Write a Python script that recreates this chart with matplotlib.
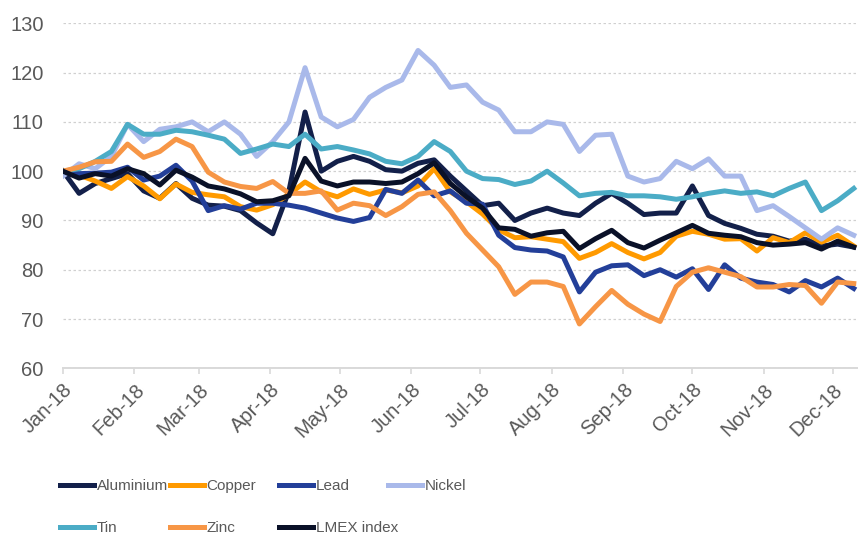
import matplotlib
matplotlib.use("Agg")
import matplotlib.pyplot as plt
import matplotlib.dates as mdates
import pandas as pd

# weekly readings, index Jan-2018 = 100
dates = pd.date_range("2018-01-01", periods=50, freq="7D")

aluminium = [100, 95.5, 97.5, 98.5, 99.5, 96, 94.5, 97.5, 94.5, 93.1,
             92.9, 92, 89.5, 87.3, 96, 112, 100, 102, 103, 102,
             100.3, 100, 101.6, 102.3, 99, 96, 93, 93.5, 90, 91.5,
             92.5, 91.5, 91, 93.5, 95.5, 93.5, 91.2, 91.5, 91.5, 97,
             91, 89.4, 88.4, 87.2, 86.8, 85.8, 86.2, 84.8, 85.2, 84.6]
copper = [100, 99.2, 98, 96.5, 98.9, 97, 94.4, 97.4, 95.7, 95.2,
          94.8, 92.8, 92.1, 93.2, 95.3, 97.8, 95.8, 94.8, 96.4, 95.3,
          96.2, 95.6, 97, 100.5, 95.8, 93.8, 91.3, 88.1, 86.5, 86.7,
          86.2, 85.7, 82.3, 83.5, 85.3, 83.5, 82.2, 83.5, 86.8, 87.8,
          87.2, 86.2, 86.3, 83.8, 86.5, 85.5, 87.5, 85.6, 87, 84.8]
lead = [100, 99.5, 99.6, 99.8, 100.8, 98.2, 99, 101.2, 98, 92,
        93, 92.3, 93.5, 93.5, 93.1, 92.5, 91.5, 90.5, 89.8, 90.6,
        96.3, 95.5, 98.2, 95, 96, 93.5, 93.3, 87, 84.5, 84,
        83.8, 82.6, 75.5, 79.5, 80.8, 81, 78.8, 80, 78.5, 80.2,
        76, 81, 78.3, 77.5, 77, 75.5, 77.8, 76.5, 78.3, 76.2]
nickel = [99, 101.5, 100.5, 103, 109.5, 106, 108.5, 109, 110, 108,
          110, 107.5, 103, 106, 110, 121, 111, 109, 110.5, 115,
          117, 118.5, 124.5, 121.5, 117, 117.5, 114, 112.4, 108, 108,
          110, 109.5, 104, 107.3, 107.5, 99, 97.8, 98.5, 102, 100.5,
          102.5, 99, 99, 92, 93, 90.8, 88.5, 86.2, 88.5, 87]
tin = [100, 100.5, 102, 104, 109.5, 107.5, 107.5, 108.3, 108, 107.3,
       106.5, 103.6, 104.5, 105.5, 105, 107.5, 104.5, 105, 104.3, 103.5,
       102, 101.5, 103, 106, 104, 100, 98.5, 98.3, 97.3, 98,
       100, 97.6, 95, 95.5, 95.7, 95, 95, 94.8, 94.3, 94.8,
       95.5, 96, 95.5, 95.8, 95, 96.5, 97.8, 92, 94, 96.5]
zinc = [100, 100.8, 101.9, 102, 105.5, 102.8, 104, 106.5, 105, 99.8,
        97.8, 96.9, 96.5, 97.9, 95.5, 95.5, 96, 92.1, 93.5, 93,
        91, 92.8, 95.3, 95.8, 92, 87.4, 84, 80.6, 75, 77.5,
        77.5, 76.6, 69, 72.5, 75.8, 73, 71, 69.5, 76.6, 79.5,
        80.4, 79.5, 78.6, 76.5, 76.5, 77, 76.8, 73.2, 77.5, 77.2]
lmex = [100, 98.6, 99.5, 99, 100.5, 99.5, 97.2, 100.2, 98.8, 97,
        96.4, 95.4, 93.8, 94, 95, 102.6, 98, 97, 97.8, 97.8,
        97.5, 97.8, 99.5, 101.7, 97.5, 94.8, 92.5, 88.5, 88.2, 86.8,
        87.5, 87.8, 84.3, 86.3, 88, 85.5, 84.4, 86, 87.5, 89,
        87.4, 87, 86.7, 85.5, 85, 85.2, 85.5, 84.2, 85.8, 84.6]

names = ["Aluminium", "Copper", "Lead", "Nickel", "Tin", "Zinc", "LMEX index"]
series = [aluminium, copper, lead, nickel, tin, zinc, lmex]
colors = ["#13204a", "#ff9a00", "#233f99", "#a9b9ea", "#4bacc6", "#f79646", "#0a1128"]

plt.rcParams["font.family"] = ["Liberation Sans", "DejaVu Sans"]

fig = plt.figure(figsize=(8.58, 5.34), dpi=100)
ax = fig.add_axes([0.0734, 0.3103, 0.9266, 0.646])

handles = []
for name, vals, c in zip(names, series, colors):
    h, = ax.plot(dates, vals, color=c, lw=3.6, label=name, solid_joinstyle="round")
    handles.append(h)

ax.set_ylim(60, 130)
ax.set_yticks(range(60, 131, 10))
ax.set_xlim(pd.Timestamp("2018-01-01"), pd.Timestamp("2018-12-11 20:00"))
ax.xaxis.set_major_locator(mdates.MonthLocator())
ax.xaxis.set_major_formatter(mdates.DateFormatter("%b-%y"))

ax.grid(axis="y", color="#d0d0d0", linestyle=(0, (2, 2)), lw=0.9)
ax.set_axisbelow(True)
for s in ["top", "right", "left"]:
    ax.spines[s].set_visible(False)
ax.spines["bottom"].set_color("#d9d9d9")
ax.spines["bottom"].set_linewidth(1.4)

ax.tick_params(axis="y", length=0, pad=14, labelsize=14.5, labelcolor="#595959")
ax.tick_params(axis="x", length=4.5, width=1.2, color="#d9d9d9", pad=4,
               labelsize=14.5, labelcolor="#595959")
for lab in ax.get_xticklabels():
    lab.set_rotation(45)
    lab.set_ha("right")
    lab.set_rotation_mode("anchor")

# legend: 4 columns, 2 rows, read row-wise
cols = [[0, 4], [1, 5], [2, 6], [3]]
xs = [60, 170, 279, 388]
for idx, x0 in zip(cols, xs):
    fig.legend(handles=[handles[i] for i in idx], labels=[names[i] for i in idx],
               loc="upper left", bbox_to_anchor=(x0 / 858, 1 - 479 / 534),
               frameon=False, borderpad=0, borderaxespad=0,
               handlelength=2.2, handletextpad=0.2, labelspacing=1.85,
               fontsize=11, labelcolor="#595959")

fig.savefig("out.png", dpi=100)
